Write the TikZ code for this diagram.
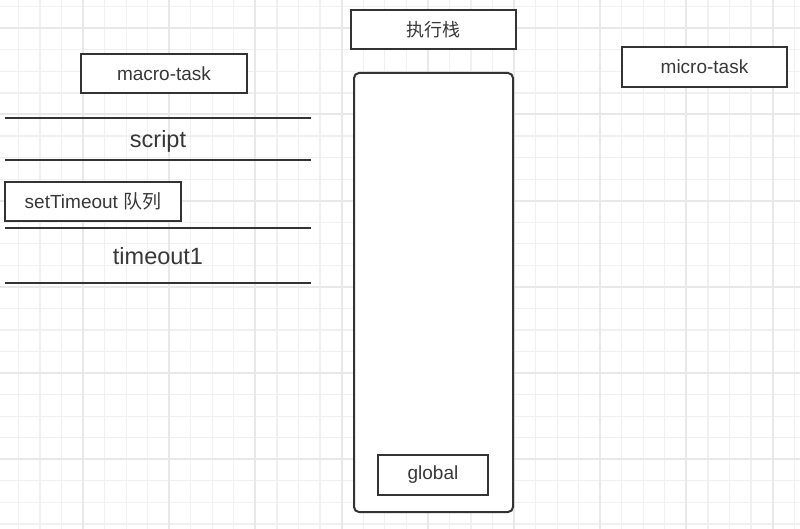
\documentclass[tikz,border=0pt]{standalone}
\usepackage{fontspec}
\setmainfont{Liberation Sans}
\newfontfamily\cjk{Noto Sans CJK SC}
\definecolor{ink}{HTML}{333333}
\definecolor{txt}{HTML}{383838}
\definecolor{gminor}{HTML}{F0F0F0}
\definecolor{gmajor}{HTML}{E8E8E8}
\tikzset{
  box/.style={draw=ink, line width=2pt, fill=white, inner sep=0pt, text=txt, font=\fontsize{19}{22}\selectfont},
  lane/.style={draw=ink, line width=2pt},
  lanetext/.style={text=txt, font=\fontsize{23.5}{26}\selectfont, inner sep=0pt},
}
\begin{document}
\begin{tikzpicture}[x=1pt,y=-1pt]
\useasboundingbox (0,0) rectangle (800,529);
\fill[white] (0,0) rectangle (800,529);
% grid
\foreach \i in {0,...,37} {
  \draw[gminor, line width=1.2pt] ({-3.2+21.55*\i},0) -- ({-3.2+21.55*\i},529);
}
\foreach \i in {0,...,25} {
  \draw[gminor, line width=1.2pt] (0,{-14.8+21.55*\i}) -- (800,{-14.8+21.55*\i});
}
\foreach \i in {0,...,9} {
  \draw[gmajor, line width=2pt] ({-3.2+86.2*\i},0) -- ({-3.2+86.2*\i},529);
}
\foreach \i in {0,...,6} {
  \draw[gmajor, line width=2pt] (0,{28.3+86.2*\i}) -- (800,{28.3+86.2*\i});
}
% macro-task column
\node[box, minimum width=166pt, minimum height=39pt] (macro) at (164,73.5) {macro-task};
\coordinate (l1a) at (5,118); \coordinate (l1b) at (311,118);
\coordinate (l2a) at (5,160); \coordinate (l2b) at (311,160);
\draw[lane] (l1a) -- (l1b);
\node[lanetext] (script) at (158,141) {script};
\draw[lane] (l2a) -- (l2b);
\node[box, minimum width=176pt, minimum height=39pt] (stq) at (93,201.5) {setTimeout {\cjk 队列}};
\coordinate (l3a) at (5,228); \coordinate (l3b) at (311,228);
\coordinate (l4a) at (5,283); \coordinate (l4b) at (311,283);
\draw[lane] (l3a) -- (l3b);
\node[lanetext] (t1) at (158,256.5) {timeout1};
\draw[lane] (l4a) -- (l4b);
% execution stack
\node[box, minimum width=165pt, minimum height=39pt, font=\cjk\fontsize{18}{22}\selectfont] (exec) at (433.5,29.5) {执行栈};
\node[draw=ink, line width=2pt, fill=white, rounded corners=5pt, minimum width=159pt, minimum height=439pt, inner sep=0pt] (stack) at (433.5,292.5) {};
\node[box, minimum width=110pt, minimum height=40pt] (global) at (433,475) {global};
% micro-task
\node[box, minimum width=165pt, minimum height=40pt] (micro) at (704.5,67) {micro-task};
\end{tikzpicture}
\end{document}
